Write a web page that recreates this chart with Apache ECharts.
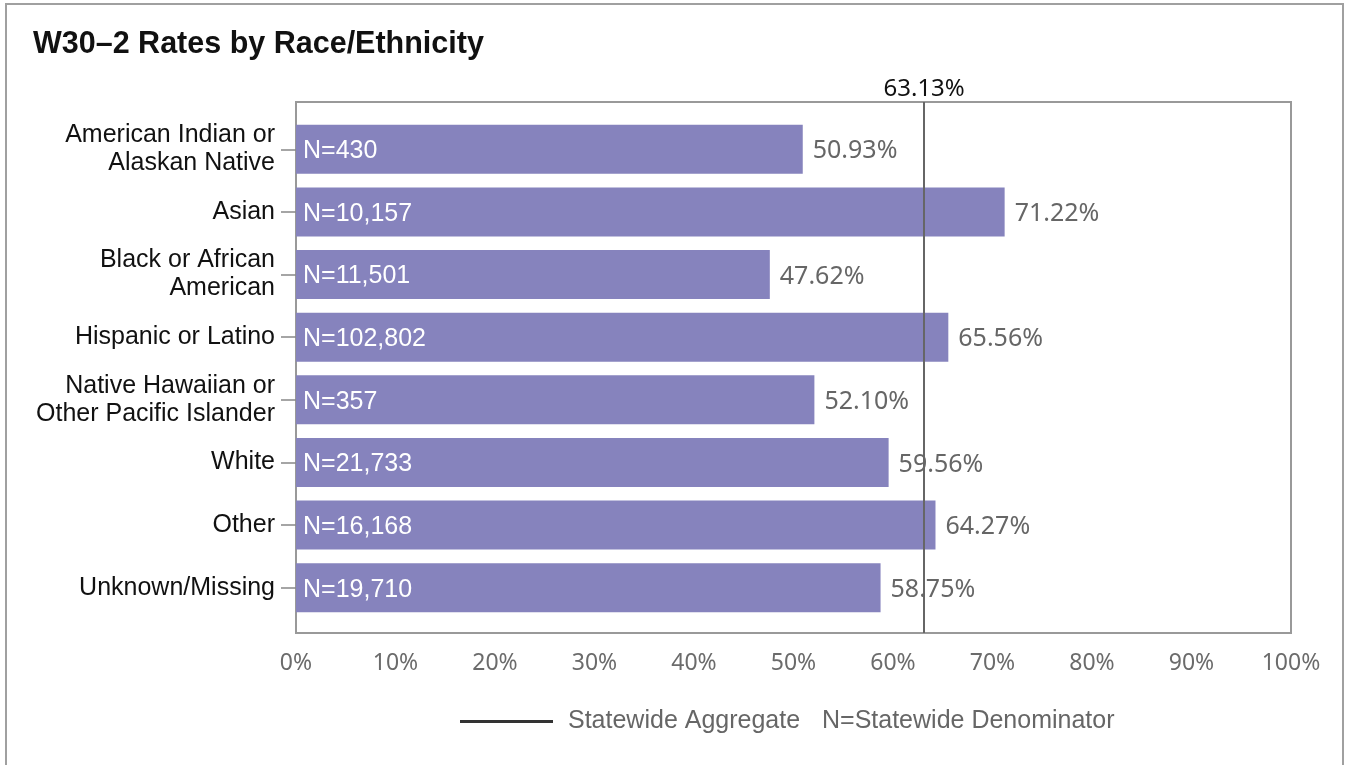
<!DOCTYPE html>
<html>
<head>
<meta charset="utf-8">
<script src="https://cdn.jsdelivr.net/npm/echarts@6/dist/echarts.min.js"></script>
<style>
  html, body { margin: 0; padding: 0; background: #fff; }
  .frame {
    position: absolute; left: 5px; top: 3px;
    width: 1335px; height: 820px;
    border: 2px solid #a0a0a0;
    pointer-events: none;
  }
  #chart { position: absolute; left: 0; top: 0; width: 1345px; height: 765px; }
</style>
</head>
<body>
<div id="chart"></div>
<div class="frame"></div>
<script>
// data
const categories = [
  'American Indian or\nAlaskan Native',
  'Asian',
  'Black or African\nAmerican',
  'Hispanic or Latino',
  'Native Hawaiian or\nOther Pacific Islander',
  'White',
  'Other',
  'Unknown/Missing'
]
const rates = [50.93, 71.22, 47.62, 65.56, 52.10, 59.56, 64.27, 58.75]
const denominators = [430, 10157, 11501, 102802, 357, 21733, 16168, 19710]
const statewideRate = 63.13
const xTicks = [0, 10, 20, 30, 40, 50, 60, 70, 80, 90, 100]

const chart = echarts.init(document.getElementById('chart'))

const option = {
  animation: false,
  title: {
    text: 'W30–2 Rates by Race/Ethnicity',
    left: 33,
    top: 29,
    padding: 0,
    textStyle: {
      fontFamily: 'Liberation Sans',
      fontWeight: 'bold',
      fontSize: 30.5,
      color: '#111'
    }
  },
  legend: {
    left: 460,
    top: 709,
    padding: 0,
    itemWidth: 93,
    itemHeight: 3,
    icon: 'rect',
    data: ['Statewide Aggregate'],
    textStyle: {
      fontFamily: 'Liberation Sans',
      fontSize: 25,
      color: '#666',
      padding: [0, 0, 0, 10]
    }
  },
  graphic: [
    {
      type: 'text',
      left: 822,
      top: 709,
      style: {
        text: 'N=Statewide Denominator',
        fontFamily: 'Liberation Sans',
        fontSize: 25,
        fill: '#666'
      }
    }
  ],
  grid: [
    // frame of the plot area, with the statewide line
    { left: 296, right: 54, top: 102, bottom: 132, show: true, borderColor: '#999', borderWidth: 2 },
    // bars
    { left: 296, right: 54, top: 118, bottom: 146 }
  ],
  xAxis: [
    {
      gridIndex: 0,
      type: 'value',
      min: 0,
      max: 100,
      interval: 10,
      axisLine: { show: false },
      axisTick: { show: false },
      splitLine: { show: false },
      axisLabel: {
        margin: 19,
        fontFamily: 'Noto Sans',
        fontSize: 23,
        color: '#6b6b6b',
        formatter: v => (xTicks.includes(v) ? v + '%' : '')
      }
    },
    {
      gridIndex: 1,
      type: 'value',
      min: 0,
      max: 100,
      show: false
    }
  ],
  yAxis: [
    {
      gridIndex: 0,
      type: 'value',
      min: 0,
      max: 1,
      show: false
    },
    {
      gridIndex: 1,
      type: 'category',
      inverse: true,
      data: categories,
      axisLine: { show: false },
      axisTick: {
        show: true,
        alignWithLabel: true,
        length: 15,
        lineStyle: { color: '#888', width: 1.5 }
      },
      axisLabel: {
        margin: 21,
        fontFamily: 'Liberation Sans',
        fontSize: 25,
        lineHeight: 28,
        padding: [4, 0, 0, 0],
        color: '#111',
        align: 'right'
      }
    }
  ],
  series: [
    {
      name: 'Statewide Aggregate',
      type: 'line',
      xAxisIndex: 0,
      yAxisIndex: 0,
      data: [],
      color: '#333',
      markLine: {
        silent: true,
        symbol: 'none',
        data: [{ xAxis: statewideRate }],
        lineStyle: { color: '#666', width: 2, type: 'solid' },
        label: {
          position: 'end',
          distance: 1,
          formatter: statewideRate.toFixed(2) + '%',
          fontFamily: 'Noto Sans',
          fontSize: 24,
          color: '#111'
        }
      }
    },
    {
      name: 'N',
      type: 'bar',
      xAxisIndex: 1,
      yAxisIndex: 1,
      barWidth: 49,
      data: rates,
      itemStyle: { color: '#8683bd' },
      label: {
        show: true,
        position: 'insideLeft',
        distance: 7,
        offset: [0, 2],
        fontFamily: 'Liberation Sans',
        fontSize: 25,
        color: '#fff',
        formatter: p => 'N=' + denominators[p.dataIndex].toLocaleString('en-US')
      }
    },
    {
      name: 'Rate',
      type: 'bar',
      xAxisIndex: 1,
      yAxisIndex: 1,
      barWidth: 49,
      barGap: '-100%',
      data: rates,
      itemStyle: { color: 'rgba(0,0,0,0)' },
      label: {
        show: true,
        position: 'right',
        distance: 10,
        offset: [0, 2],
        fontFamily: 'Noto Sans',
        fontSize: 25,
        color: '#666',
        formatter: p => p.value.toFixed(2) + '%'
      }
    }
  ]
}

chart.setOption(option)
</script>
</body>
</html>
